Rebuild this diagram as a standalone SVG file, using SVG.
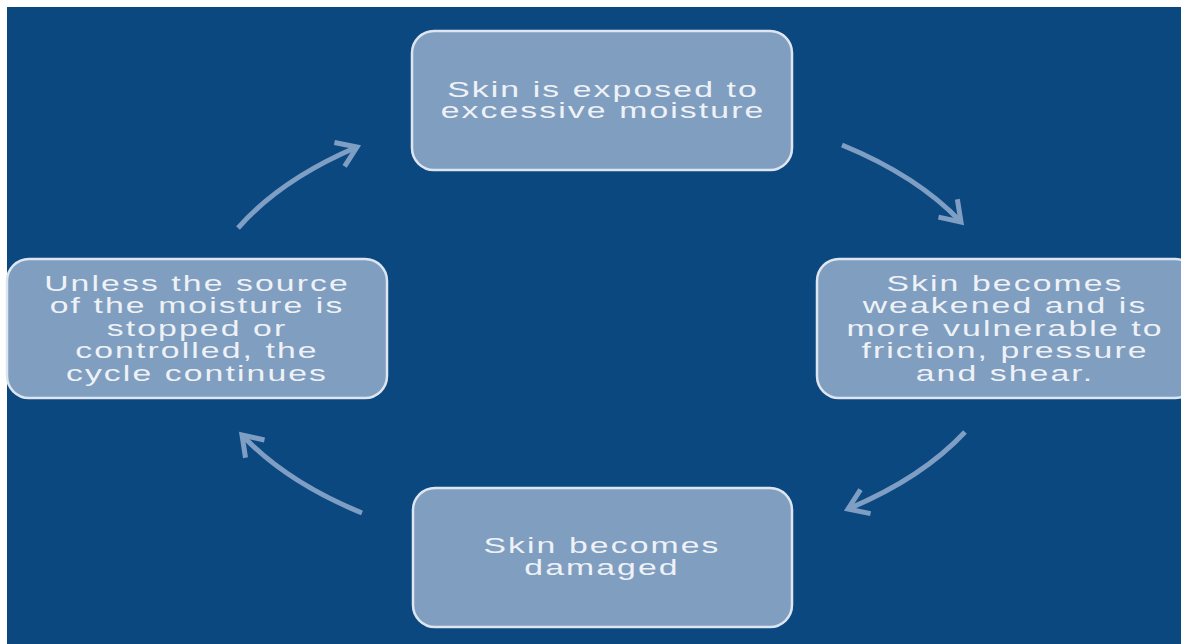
<svg xmlns="http://www.w3.org/2000/svg" width="1181" height="644" viewBox="0 0 1181 644">
<style>
.box{fill:#809ebf;stroke:#dde6f0;stroke-width:2.5}
.t{font-family:"Liberation Sans",Arial,sans-serif;font-size:22.5px;letter-spacing:1.4px;fill:#eef2f7;text-anchor:middle}
.arc{fill:none;stroke:#7f9ec4;stroke-width:5;marker-end:url(#ah)}
</style>
<defs>
<marker id="ah" markerUnits="userSpaceOnUse" viewBox="-30 -20 40 40" markerWidth="40" markerHeight="40" refX="0" refY="0" orient="auto">
<path d="M-19 -13 L0 0 L-19 13" fill="none" stroke="#7f9ec4" stroke-width="5" stroke-linejoin="miter"/>
</marker>
</defs>
<rect x="0" y="0" width="1181" height="644" fill="#ffffff"/>
<rect x="7" y="7" width="1174" height="637" fill="#0c4880"/>
<g id="connectors">
<path class="arc" d="M842 145 A407 228 0 0 1 961 222"/>
<path class="arc" d="M965 432 A407 228 0 0 1 848 509"/>
<path class="arc" d="M362 513 A407 228 0 0 1 242 435"/>
<path class="arc" d="M238 228 A407 228 0 0 1 357 147"/>
</g>
<g id="node-top">
<rect class="box" x="412" y="31" width="380" height="139" rx="22"/>
<g transform="translate(603 0) scale(1.5 1)">
<text class="t" x="0" y="97">Skin is exposed to</text>
<text class="t" x="0" y="118">excessive moisture</text>
</g>
</g>
<g id="node-right">
<rect class="box" x="817" y="259" width="380" height="139" rx="22"/>
<g transform="translate(1005 0) scale(1.5 1)">
<text class="t" x="0" y="291">Skin becomes</text>
<text class="t" x="0" y="313">weakened and is</text>
<text class="t" x="0" y="336">more vulnerable to</text>
<text class="t" x="0" y="358">friction, pressure</text>
<text class="t" x="0" y="381">and shear.</text>
</g>
</g>
<g id="node-bottom">
<rect class="box" x="413" y="488" width="379" height="139" rx="22"/>
<g transform="translate(602 0) scale(1.5 1)">
<text class="t" x="0" y="553">Skin becomes</text>
<text class="t" x="0" y="575">damaged</text>
</g>
</g>
<g id="node-left">
<rect class="box" x="7" y="259" width="380" height="139" rx="22"/>
<g transform="translate(197 0) scale(1.5 1)">
<text class="t" x="0" y="291">Unless the source</text>
<text class="t" x="0" y="313">of the moisture is</text>
<text class="t" x="0" y="336">stopped or</text>
<text class="t" x="0" y="358">controlled, the</text>
<text class="t" x="0" y="381">cycle continues</text>
</g>
</g>
</svg>
